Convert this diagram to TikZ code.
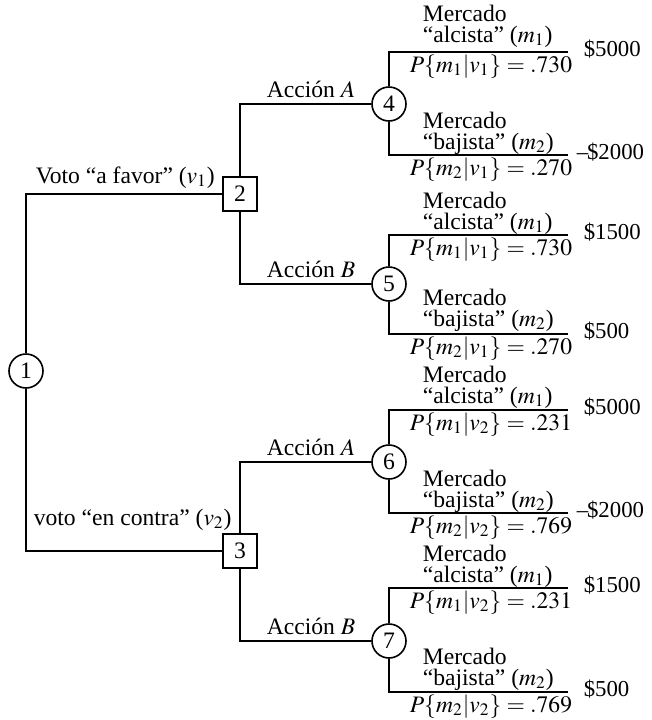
\documentclass[tikz,border=0pt]{standalone}
\usepackage{mathptmx}
\usepackage{fontspec}
\setmainfont{Liberation Serif}
\begin{document}
\begin{tikzpicture}[x=0.5pt,y=-0.5pt,line width=0.8pt,
  every node/.style={font=\fontsize{11.8}{14}\selectfont},
  chance/.style={draw,circle,minimum size=17pt,inner sep=0pt,fill=white},
  decision/.style={draw,rectangle,minimum size=17pt,inner sep=0pt,fill=white},
  lbl/.style={anchor=base west,inner sep=0pt},
  pay/.style={anchor=base west,inner sep=0pt,font=\fontsize{11.4}{13}\selectfont}]
\useasboundingbox (0,0) rectangle (652,720);
% decision / chance nodes
\node[chance]   (n1) at (26,371) {1};
\node[decision] (n2) at (240,194) {2};
\node[decision] (n3) at (240,551) {3};
\node[chance]   (n4) at (389,104) {4};
\node[chance]   (n5) at (389,284) {5};
\node[chance]   (n6) at (389,462) {6};
\node[chance]   (n7) at (389,641) {7};
% branch ends
\coordinate (e4a) at (568,52);
\coordinate (e4b) at (568,155);
\coordinate (e5a) at (568,235);
\coordinate (e5b) at (568,334);
\coordinate (e6a) at (568,410);
\coordinate (e6b) at (568,513);
\coordinate (e7a) at (568,588);
\coordinate (e7b) at (568,692);
% connectors
\draw (n1) |- (n2);
\draw (n1) |- (n3);
\draw (n2) |- (n4);
\draw (n2) |- (n5);
\draw (n3) |- (n6);
\draw (n3) |- (n7);
\draw (n4) |- (e4a);
\draw (n4) |- (e4b);
\draw (n5) |- (e5a);
\draw (n5) |- (e5b);
\draw (n6) |- (e6a);
\draw (n6) |- (e6b);
\draw (n7) |- (e7a);
\draw (n7) |- (e7b);
% first-level labels
\node[lbl] (v1) at (35,183) {Voto “a favor” ($v_1$)};
\node[lbl] (v2) at (33,525) {voto “en contra” ($v_2$)};
\node[lbl] (a4) at (266,97) {Acción $A$};
\node[lbl] (a5) at (266,277) {Acción $B$};
\node[lbl] (a6) at (266,455) {Acción $A$};
\node[lbl] (a7) at (266,634) {Acción $B$};
% node 4
\node[lbl] (m4a) at (422,21) {Mercado};
\node[lbl] (q4a) at (422,42) {“alcista” ($m_1$)};
\node[lbl] (p4a) at (409,72) {$P\{m_1|v_1\} = .730$};
\node[pay] (r4a) at (583,56) {\$5000};
\node[lbl] (m4b) at (422,128) {Mercado};
\node[lbl] (q4b) at (422,149) {“bajista” ($m_2$)};
\node[lbl] (p4b) at (409,175) {$P\{m_2|v_1\} = .270$};
\node[pay] (r4b) at (576,159) {–\kern-0.05em\$2000};
% node 5
\node[lbl] (m5a) at (422,208) {Mercado};
\node[lbl] (q5a) at (422,229) {“alcista” ($m_1$)};
\node[lbl] (p5a) at (409,255) {$P\{m_1|v_1\} = .730$};
\node[pay] (r5a) at (583,239) {\$1500};
\node[lbl] (m5b) at (422,305) {Mercado};
\node[lbl] (q5b) at (422,326) {“bajista” ($m_2$)};
\node[lbl] (p5b) at (409,354) {$P\{m_2|v_1\} = .270$};
\node[pay] (r5b) at (583,338) {\$500};
% node 6
\node[lbl] (m6a) at (422,382) {Mercado};
\node[lbl] (q6a) at (422,403) {“alcista” ($m_1$)};
\node[lbl] (p6a) at (409,430) {$P\{m_1|v_2\} = .231$};
\node[pay] (r6a) at (583,414) {\$5000};
\node[lbl] (m6b) at (422,486) {Mercado};
\node[lbl] (q6b) at (422,507) {“bajista” ($m_2$)};
\node[lbl] (p6b) at (409,533) {$P\{m_2|v_2\} = .769$};
\node[pay] (r6b) at (576,517) {–\kern-0.05em\$2000};
% node 7
\node[lbl] (m7a) at (422,561) {Mercado};
\node[lbl] (q7a) at (422,582) {“alcista” ($m_1$)};
\node[lbl] (p7a) at (409,608) {$P\{m_1|v_2\} = .231$};
\node[pay] (r7a) at (583,592) {\$1500};
\node[lbl] (m7b) at (422,664) {Mercado};
\node[lbl] (q7b) at (422,685) {“bajista” ($m_2$)};
\node[lbl] (p7b) at (409,712) {$P\{m_2|v_2\} = .769$};
\node[pay] (r7b) at (583,696) {\$500};
\end{tikzpicture}
\end{document}
